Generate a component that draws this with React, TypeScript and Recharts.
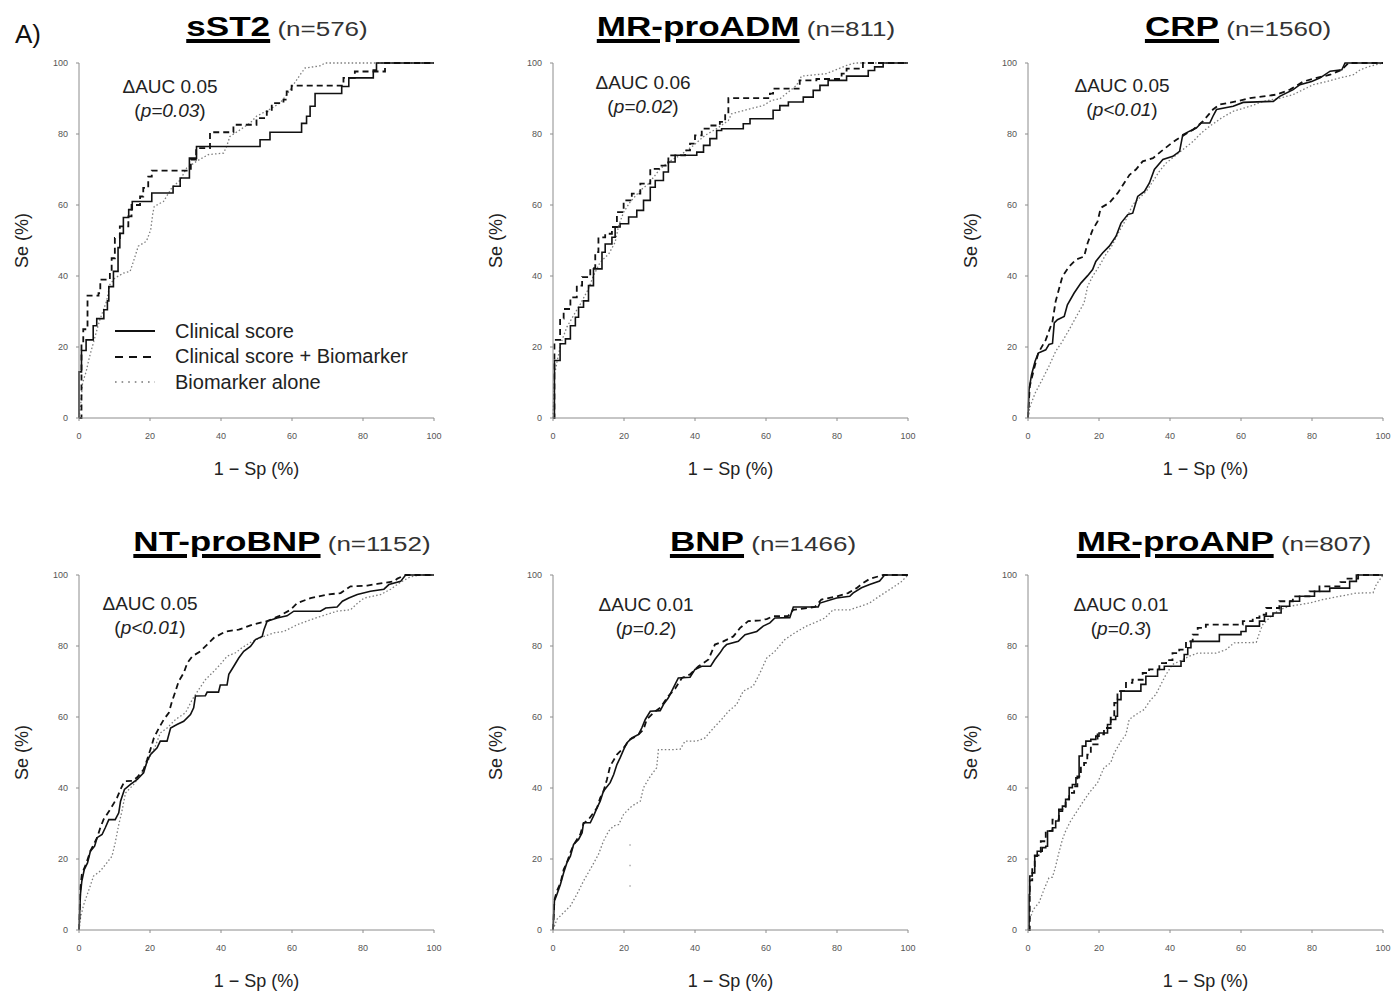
import React from 'react';
import { LineChart, Line, XAxis, YAxis, Legend } from 'recharts';

type Pt = [number, number];

// ---- text ----
const AXIS_TICKS = [0, 20, 40, 60, 80, 100];
const SERIES_NAMES = ['Clinical score', 'Clinical score + Biomarker', 'Biomarker alone'];
const MARKERS = ['sST2', 'MR-proADM', 'CRP', 'NT-proBNP', 'BNP', 'MR-proANP'];
const SAMPLE_SIZES = [576, 811, 1560, 1152, 1466, 807];
const DELTA_AUC = ['0.05', '0.06', '0.05', '0.05', '0.01', '0.01'];
const P_VALUES = ['p=0.03', 'p=0.02', 'p<0.01', 'p<0.01', 'p=0.2', 'p=0.3'];

// ---- ROC curves, [1 - Sp (%), Se (%)] ----
const sst2Clinical: Pt[] = [[0,0],[0,13],[0.7,19],[2,22],[4,26],[5,28],[7,30.5],[8,33],[8.4,37],[9.7,41.3],[11,48],[11.5,52],[12.5,56.5],[14,58.7],[15,61],[20.5,63.4],[26.5,65.3],[28.5,67.6],[31.1,73.2],[33.1,76.5],[51,78.4],[53.8,80.5],[62.7,83],[64.1,85],[65.1,87.8],[66.5,91.4],[74,93.4],[76,95.8],[82.9,98],[83.8,100],[100,100]];
const sst2Combined: Pt[] = [[0,0],[0.7,21],[1.2,25],[2.4,34.5],[5.5,35.2],[6,39],[8.7,41.3],[9.2,45],[10.1,50.7],[11.5,54],[13.9,56.8],[14.8,60],[17.2,62.4],[18.1,64.8],[19.5,68],[20.5,69.7],[31.5,72.8],[33,76],[36.9,80.5],[43.5,82.6],[50,84.5],[52.9,86.4],[54.3,88.7],[57.6,89.7],[58.5,92],[59.9,93.6],[74.5,95.8],[77.7,97.6],[86.2,100],[100,100]];
const sst2Alone: Pt[] = [[0,0],[0.5,4],[1,9.9],[2,13],[2.9,17],[4,21],[5.2,25.4],[5.9,27.7],[7.8,33],[8.7,37.6],[10.1,39.4],[12.5,40.8],[14.4,41.3],[15.3,44],[16.7,48.4],[19,49.8],[20.2,53],[20.8,57.7],[21.2,59.6],[23.8,61],[26.1,64.8],[28.5,67],[30.3,70.4],[33.1,72.3],[36.4,74.2],[40.7,74.6],[41.6,76.5],[42.5,79.3],[45.4,81.2],[48.2,83.1],[50,85],[53.8,87],[56.6,88.7],[58.5,91],[60.4,93.9],[62.3,96.7],[63.7,98.6],[67.9,99.2],[69.3,100],[100,100]];

const admClinical: Pt[] = [[0,0],[0.4,16.2],[2,20.9],[3.5,22.3],[4.9,26],[6.3,28.4],[7.2,31.2],[8.6,33],[10,37.3],[11.4,42],[13.8,46.7],[14.7,49],[16.6,50.9],[17.5,53.8],[18.9,54.7],[21.3,56.6],[23.6,58.5],[25.5,61.3],[27.4,65],[28.8,66.9],[31.1,69.3],[32.5,72.1],[34.4,74],[40.5,74.9],[42.4,76.8],[44.2,78.7],[46.1,81],[47.5,81.5],[53.6,82.9],[55.5,84.3],[62,86.7],[63.9,88],[66.3,89],[70.5,90.4],[73.3,92.3],[75.2,93.7],[77.5,95.1],[82.7,96.3],[88.8,97.9],[90.6,98.9],[93,100],[100,100]];
const admCombined: Pt[] = [[0,0],[0.4,22],[2,28],[3,30.7],[4.9,34],[6.7,37.3],[8.2,39.7],[10.5,42.2],[11.9,46.7],[12.8,50.9],[14.7,51.9],[16.6,53.8],[18,58],[19.9,61.3],[22.2,63.2],[24.6,66],[27.4,70.2],[30.2,71.1],[32.5,74],[37.2,75.4],[38.6,77.3],[40,79.6],[41.9,81.5],[44.2,82.4],[47,83.4],[48.5,85.7],[49.4,90.1],[61.1,91.4],[62,92.8],[69.5,95.1],[74.2,95.5],[81.3,97],[82.7,98.4],[87.3,100],[100,100]];
const admAlone: Pt[] = [[0,0],[0.4,12],[1.1,15.7],[2.3,21.3],[3.9,25.6],[5.8,28.9],[7.7,32.1],[10,36.4],[11.4,40.1],[13.3,43.9],[15.7,46.2],[17.5,49.5],[18.5,54.2],[19.9,58],[21.7,60.8],[24.6,64.1],[26.9,66],[30.2,70.2],[32.5,72.1],[35.8,74],[39.6,76.8],[42.8,79.6],[46.1,81.5],[49.4,83.8],[50.3,85.7],[55.5,87.1],[59.2,88],[61.6,89.5],[63.9,89.9],[68.6,93.7],[70,96.3],[77,97],[82.7,99.3],[85,100],[100,100]];

const crpClinical: Pt[] = [[0,0],[0.3,8],[1,12.2],[2,16],[2.9,18.3],[5,19.2],[5.9,20.7],[6.9,21],[7.4,26.8],[8.3,27.7],[10.2,28.6],[11.1,31.9],[13,35.2],[14.9,38],[16.8,40.1],[18.2,41.8],[19.1,44.1],[21,46.5],[22.9,48.4],[24.8,51.2],[26.2,54.9],[28.1,57.3],[29.5,57.7],[30.9,62.4],[32.8,63.8],[34.2,66.2],[35.6,70],[38,72.8],[40.8,73.7],[42.7,75.1],[43.6,79.8],[45.5,80.8],[47.4,81.7],[48.8,83.1],[51.2,83.1],[52.1,85],[53.1,86.9],[57.8,87.8],[60.6,88.9],[69.1,89.2],[70.9,90.6],[74.7,92.5],[76.6,93.9],[79.9,94.8],[82.3,95.8],[85.1,97.7],[88.4,98.1],[89.3,100],[100,100]];
const crpCombined: Pt[] = [[0,0],[0.5,9],[2,15],[2.9,18.3],[5,22],[6.9,27.2],[7.8,32.9],[9.7,39.9],[11.6,42.7],[13.5,44.6],[15.8,45.5],[16.8,49.3],[18.2,53],[19.6,55.4],[20.5,59.2],[22.9,60.6],[25.3,63.4],[27.1,66.2],[28.6,68.5],[30.4,70],[32.3,72.3],[35.2,73.2],[37.5,75.1],[39.9,77],[41.8,78.4],[44.1,79.8],[46.5,81.2],[49.3,83.6],[52.1,86.9],[54,88.3],[58.7,89.2],[62.5,90.1],[66.3,90.6],[70,91.1],[73.8,92.5],[77.6,94.8],[81.3,95.8],[85.1,96.7],[88.4,98.1],[90.3,100],[100,100]];
const crpAlone: Pt[] = [[0,0],[0.5,3],[2,7],[4,10.8],[5.9,14.6],[7.8,18.8],[9.7,21.6],[11.6,24.9],[13.9,29.1],[15.8,32.4],[16.8,37.1],[18.2,39.9],[20,42.7],[21.9,46],[23.8,48.8],[25.7,52.6],[27.6,55.9],[29.5,60.1],[31.4,62],[33.3,63.8],[35.2,66.7],[37,69.5],[38.9,71.8],[41.3,73.7],[43.6,75.6],[46.5,77.9],[48.8,80.3],[51.2,82.2],[54.5,84.5],[57.8,86.4],[62.5,87.8],[66.3,89.2],[71,90.1],[74.7,91.1],[77.5,92.5],[80.4,93.9],[84.2,94.8],[87.9,95.8],[91.7,96.7],[93.6,98.1],[96,99],[100,100]];

const ntClinical: Pt[] = [[0,0],[0.4,10],[0.8,13.8],[1.5,17.1],[2.4,18.9],[3.2,22.2],[4.4,23.6],[5.1,26],[6.5,26.9],[7.4,28.8],[8.4,31.1],[10.2,31.1],[11.2,33],[11.7,36.3],[12.8,39.6],[14.5,41],[16.4,42.4],[18.2,44.3],[19.2,47.6],[20.1,49.4],[22,51.3],[22.9,53.2],[24.8,53.2],[25.8,56.9],[27.6,57.9],[29.5,58.8],[31.4,60.7],[32.3,62.6],[32.8,65.9],[35.6,66],[36.1,67],[39.3,67],[39.8,69],[41.7,69],[42.2,72],[43.6,74.3],[45,76.6],[46.4,78.5],[48.3,79.9],[49.7,81.8],[51.6,82.7],[52.1,84.6],[53,87],[55.8,87.9],[58.6,88.5],[60.5,89.8],[68,89.8],[69.5,90.7],[72.7,91],[74.2,92.6],[76,93.5],[78.4,94.5],[82.1,95.4],[85.9,96],[87.3,97.3],[90.6,98.2],[92,100],[100,100]];
const ntCombined: Pt[] = [[0,0],[0.4,12],[0.8,15.7],[2.1,18.9],[3.2,22.2],[5.1,26],[6,28.8],[6.9,31.1],[8.8,34],[10.7,37.2],[11.7,39.6],[12.8,41.9],[15,42],[16.4,43],[18.2,45.2],[19.2,48],[20.1,50.8],[21.1,54.1],[22.5,56.9],[23.9,59.3],[25.3,61.2],[26.2,64.4],[27.2,67.3],[28.1,70.1],[29.5,72.4],[30.5,75.2],[31.9,77.1],[34.2,78.5],[36.1,80.4],[38,82.3],[41.3,84.1],[45,84.6],[48.8,86],[53,87],[56.3,88.4],[59.6,90.2],[61.5,92.1],[65.2,93.5],[69.9,94.5],[73.7,94.9],[76.5,96.8],[81.2,97],[84,97.5],[88.7,98.2],[89.7,99],[92,100],[100,100]];
const ntAlone: Pt[] = [[0,0],[0.5,4],[1.5,7.7],[3,11.9],[4.1,15.2],[6,16.6],[7.9,19],[9.3,20.8],[10.2,24.6],[11.2,29.7],[12.1,33.5],[13.1,38.6],[15.4,41],[17.8,44.3],[19.6,48],[21.5,51.8],[22.9,55.5],[24.8,56.9],[27.2,59.3],[30,61.2],[31.9,64.9],[33.7,67.7],[35.6,70.5],[38,72.9],[39.8,74.8],[41.7,77.1],[44.1,78.1],[45.9,79.5],[48.8,81.3],[51.1,82.3],[54.9,83.7],[57.7,84.1],[61.5,86],[65.2,87.4],[69.5,88.8],[72.7,89.8],[76.5,90.2],[78.4,92],[80.3,93.5],[85,94.5],[87.8,96],[90.6,98],[93.4,99.5],[96,100],[100,100]];

const bnpClinical: Pt[] = [[0,0],[0.4,8.2],[1.1,10],[2.1,12.9],[3,16.1],[3.9,18.9],[4.9,20.8],[5.8,24.1],[7.2,25.5],[8.2,27.4],[8.6,30.2],[10.5,30.2],[11.4,32.1],[12.4,34.4],[13.3,36.3],[14.2,39.1],[16.1,41.5],[17.1,43.8],[18,46.6],[18.9,48.5],[19.9,50.8],[20.8,52.7],[22.2,54.1],[24.1,55.1],[25,56.9],[26,59.3],[27.4,61.6],[30.2,61.8],[31.1,63.5],[32.5,65.4],[33.9,68.2],[35.3,71],[38.6,71.2],[40,73.4],[41.9,74.3],[44.4,74.3],[45.6,76.2],[47,78],[48,79.5],[48.9,80.4],[52.2,81.3],[54.1,83.2],[57.4,84.1],[59.2,85.6],[61.1,86.5],[62.5,87.9],[66.7,88],[67.7,91],[74.7,91],[75.2,92.1],[79.9,93.5],[83.6,94],[84.5,94.9],[86.9,96.4],[89.2,97.3],[92,98.3],[93.4,100],[100,100]];
const bnpCombined: Pt[] = [[0,0],[0.4,8.5],[1.1,11],[2.1,13.2],[3,17],[3.9,19],[4.9,21.8],[5.8,24],[7.7,27],[8.6,30],[10,31.1],[12.4,34.4],[13.3,37.2],[14.2,39],[15.2,42.4],[16.1,46.2],[18,49.4],[19.9,51.3],[21.7,53.7],[23.6,54.6],[25.5,56.5],[26.4,59.3],[28.3,61.2],[30.2,62.6],[32.5,65.9],[34.4,68],[36.3,71],[38.6,72],[41,74.3],[43.8,76.2],[45.6,80.4],[48,81.3],[50.8,82.7],[52.7,85.1],[55,87],[58.3,87.2],[60.2,87.6],[62,88.4],[66.2,88.4],[67.7,90.2],[73.8,91],[75.6,93.1],[80,94],[83.1,94.9],[85.5,96.3],[87.3,97.7],[89.2,98.9],[93,100],[100,100]];
const bnpAlone: Pt[] = [[0,0],[1.1,3],[2.5,4.4],[4.9,6.8],[6.7,10],[8.6,13.8],[11,18],[12.8,21.3],[14.2,25],[15.7,27.9],[17.1,29.3],[18.5,29.7],[19.9,32.6],[22.2,34.9],[24.6,36.3],[25.5,40.1],[27.4,43.3],[29.2,45.7],[29.7,50.8],[33,50.8],[35.8,50.9],[37.2,53.2],[40.5,53.2],[42.8,54.1],[45.2,56.9],[47.5,59.3],[49.4,61.6],[51.7,63.5],[53.6,67.3],[56.4,68.7],[58.3,72.4],[60.2,76.6],[62.5,78.5],[65.3,81.8],[68.1,83.7],[71.4,85.6],[74.7,87],[76.6,87.9],[78.9,90.2],[83.6,90.2],[86,91],[89,92],[91.6,93.8],[95,96],[98,98],[100,100]];
const bnpAloneFragment: Pt[] = [[21.7,12.2],[21.7,24.4]];

const anpClinical: Pt[] = [[0,0],[0.3,10],[0.5,15.2],[1.2,16.1],[1.9,20.8],[2.6,22.2],[4,23.2],[5,23.6],[5.5,27.9],[6.9,28.8],[7.8,30.7],[8.7,33.5],[9.7,34.9],[10.6,36.8],[11.6,40.1],[12.5,41],[13.5,42.9],[14.4,49],[15.3,51.8],[16.3,53.2],[17.7,53.7],[19.1,54.6],[20,55.5],[22.4,57.9],[23.3,59.3],[24.7,60.2],[25.2,64.9],[26.2,67.3],[31.8,69.2],[33.2,71.5],[36.5,73.4],[38.4,74.3],[43.1,75.7],[44,77.6],[45,79.5],[45.9,81.3],[53.9,83.2],[60,84.1],[61.4,85.6],[65.2,87],[66.6,88.4],[69,89.3],[71.3,91.2],[73.7,92.6],[76.5,94],[80.7,95.4],[85,96.3],[90.6,98.2],[92.5,100],[100,100]];
const anpCombined: Pt[] = [[0,0],[0.5,14],[1.2,18],[1.9,21],[3.6,25],[5,27.9],[6.9,31.1],[8.7,34],[10.6,36.8],[11.6,38.6],[13,40.5],[13.9,43.3],[14.9,45.7],[15.8,47.1],[16.7,49.4],[17.7,52.3],[19.6,55.1],[21.4,56.9],[23.3,59.8],[24.3,64],[25.2,67.3],[27.6,69.6],[29.4,70.5],[32.3,72.4],[34.1,73.4],[37,75.2],[38.9,76],[40.7,78],[42.6,79],[44.5,81.3],[46.4,83.2],[47.8,85.1],[50.1,86],[60.5,87],[63.3,87.9],[65.2,88.8],[67.1,90.7],[70.8,92.6],[74.6,94],[79.3,95.4],[82.1,96.8],[88,98],[90,99],[93,100],[100,100]];
const anpAlone: Pt[] = [[0,0],[0.5,3],[1.5,5.8],[3.1,7.7],[4.5,11.4],[5.9,14.7],[6.9,14.9],[7.8,18],[8.7,21.8],[9.7,25.5],[10.6,27.9],[12,30.7],[13.5,33],[15.3,35.8],[17.2,38.6],[19.6,41.5],[21.4,45.7],[23.3,47.1],[24.3,49.9],[26.2,53.2],[27.6,55.1],[28.5,59.3],[30.4,60.7],[32.7,62.1],[34.6,64.9],[36,66.3],[37.4,69.1],[38.9,72],[40.7,74.8],[42.6,75.7],[45.4,77.1],[47.8,78],[53,78],[55.8,79],[58.1,80.9],[64.3,81],[65.2,83.7],[66.1,86],[68.5,88.4],[70.8,90.2],[73.7,91.2],[79.3,92.1],[83.1,93.1],[87.8,94],[92.5,94.9],[97.2,95],[98.1,97.3],[100,100]];

// [clinical, clinical + biomarker, biomarker alone] per panel
const CURVES: Pt[][][] = [
  [sst2Clinical, sst2Combined, sst2Alone],
  [admClinical, admCombined, admAlone],
  [crpClinical, crpCombined, crpAlone],
  [ntClinical, ntCombined, ntAlone],
  [bnpClinical, bnpCombined, bnpAlone],
  [anpClinical, anpCombined, anpAlone],
];
const EXTRA_DOTTED: (Pt[] | null)[] = [null, null, null, null, bnpAloneFragment, null];

// ---- layout / styles ----
const FONT = '"Liberation Sans", Arial, Helvetica, sans-serif';
const COL_LEFT = [79, 553, 1028];
const ROW_TOP = [63, 575];
const PLOT = 355;
const Y_AXIS_W = 70;
const X_AXIS_H = 70;
const PAD = 10;
const TITLE_DX = [20, 15, 32, 25, 32, 18];
const NOTE_POS = [[91, 30], [90, 26], [94, 29], [71, 35], [93, 36], [93, 36]];
const STEPPED = [true, true, false, false, false, true];
const AXIS_COLOR = '#8c8c8c';

const LINE_STYLES = [
  { stroke: '#111', width: 1.6, dash: undefined as string | undefined },
  { stroke: '#111', width: 1.8, dash: '6 4' },
  { stroke: '#7d7d7d', width: 1.3, dash: '1.5 2.2' },
];
const FRAGMENT_STYLE = { stroke: '#a0a0a0', width: 1.3, dash: '1.5 19' };
const LEGEND_STYLES = [
  { stroke: '#111', width: 2, dash: undefined as string | undefined },
  { stroke: '#111', width: 2, dash: '8 6' },
  { stroke: '#777', width: 1.6, dash: '1.6 5' },
];

const toRows = (pts: Pt[]) => pts.map(([x, y]) => ({ x, y }));

function LegendBox() {
  return (
    <div style={{ fontFamily: FONT, fontSize: 20, color: '#222' }}>
      {SERIES_NAMES.map((name, i) => (
        <div key={name} style={{ display: 'flex', alignItems: 'center', height: 25.5, whiteSpace: 'nowrap' }}>
          <svg width={60} height={10}>
            <line x1={0} x2={40} y1={5} y2={5} stroke={LEGEND_STYLES[i].stroke}
              strokeWidth={LEGEND_STYLES[i].width} strokeDasharray={LEGEND_STYLES[i].dash} />
          </svg>
          <span>{name}</span>
        </div>
      ))}
    </div>
  );
}

function RocPanel({ index }: { index: number }) {
  const col = index % 3;
  const row = Math.floor(index / 3);
  const plotLeft = COL_LEFT[col];
  const plotTop = ROW_TOP[row];
  const chartLeft = plotLeft - Y_AXIS_W;
  const chartTop = plotTop - PAD;
  const curves = CURVES[index];
  const extra = EXTRA_DOTTED[index];
  const drawOrder = [2, 1, 0];

  return (
    <>
      <div
        style={{
          position: 'absolute',
          left: plotLeft + PLOT / 2 + TITLE_DX[index],
          top: row === 0 ? 14 : 529,
          transform: 'translateX(-50%) scaleX(1.3)',
          whiteSpace: 'nowrap',
          fontFamily: FONT,
          fontSize: 27,
          lineHeight: '27px',
        }}
      >
        <span style={{ fontWeight: 700, color: '#000', textDecoration: 'underline', textDecorationThickness: '3.5px', textUnderlineOffset: '3px' }}>
          {MARKERS[index]}
        </span>
        <span style={{ fontSize: 20, color: '#333' }}> (n={SAMPLE_SIZES[index]})</span>
      </div>

      <div style={{ position: 'absolute', left: chartLeft, top: chartTop }}>
        <LineChart
          width={Y_AXIS_W + PLOT + PAD}
          height={PAD + PLOT + X_AXIS_H}
          margin={{ top: PAD, right: PAD, bottom: 0, left: 0 }}
        >
          <XAxis
            dataKey="x"
            type="number"
            domain={[0, 100]}
            ticks={AXIS_TICKS}
            height={X_AXIS_H}
            tickSize={3}
            tickMargin={12}
            axisLine={{ stroke: AXIS_COLOR }}
            tickLine={{ stroke: AXIS_COLOR }}
            tick={{ fontSize: 9, fill: '#555', fontFamily: FONT }}
            label={{ value: '1 \u2212 Sp (%)', position: 'insideBottom', offset: 13, fill: '#222', fontSize: 18, fontFamily: FONT }}
          />
          <XAxis xAxisId="top" orientation="top" type="number" domain={[0, 100]} height={0}
            tick={false} tickLine={false} axisLine={{ stroke: AXIS_COLOR }} />
          <YAxis
            type="number"
            domain={[0, 100]}
            ticks={AXIS_TICKS}
            width={Y_AXIS_W}
            tickSize={3}
            tickMargin={8}
            axisLine={{ stroke: AXIS_COLOR }}
            tickLine={{ stroke: AXIS_COLOR }}
            tick={{ fontSize: 9, fill: '#555', fontFamily: FONT }}
            label={{ value: 'Se (%)', angle: -90, position: 'insideLeft', offset: 13, fill: '#222', fontSize: 18, fontFamily: FONT, style: { textAnchor: 'middle' } }}
          />
          <YAxis yAxisId="right" orientation="right" type="number" domain={[0, 100]} width={0}
            tick={false} tickLine={false} axisLine={{ stroke: AXIS_COLOR }} />

          {extra && (
            <Line data={toRows(extra)} dataKey="y" type="linear" stroke={FRAGMENT_STYLE.stroke}
              strokeWidth={FRAGMENT_STYLE.width} strokeDasharray={FRAGMENT_STYLE.dash}
              dot={false} activeDot={false} isAnimationActive={false} legendType="none" />
          )}
          {drawOrder.map((s) => (
            <Line
              key={SERIES_NAMES[s]}
              name={SERIES_NAMES[s]}
              data={toRows(curves[s])}
              dataKey="y"
              type={STEPPED[index] && s < 2 ? 'stepAfter' : 'linear'}
              stroke={LINE_STYLES[s].stroke}
              strokeWidth={LINE_STYLES[s].width}
              strokeDasharray={LINE_STYLES[s].dash}
              dot={false}
              activeDot={false}
              isAnimationActive={false}
            />
          ))}
          {index === 0 && (
            <Legend
              layout="vertical"
              align="center"
              verticalAlign="middle"
              content={() => <LegendBox />}
              wrapperStyle={{ left: 115 - chartLeft, top: 331 - 12.75 - chartTop, width: 'auto' }}
            />
          )}
        </LineChart>
      </div>
    </>
  );
}

export default function App() {
  return (
    <div style={{ position: 'absolute', left: 0, top: 0, width: 1400, height: 994, background: '#fff', overflow: 'hidden' }}>
      {MARKERS.map((m, i) => (
        <RocPanel key={m} index={i} />
      ))}
      <svg width={1400} height={994} style={{ position: 'absolute', left: 0, top: 0, pointerEvents: 'none' }}>
        <text x={15} y={43} fontFamily={FONT} fontSize={26} fill="#111">A)</text>
        {MARKERS.map((m, i) => {
          const x = COL_LEFT[i % 3] + NOTE_POS[i][0];
          const y = ROW_TOP[Math.floor(i / 3)] + NOTE_POS[i][1];
          return (
            <g key={m} fontFamily={FONT} fontSize={19} fill="#222">
              <text x={x} y={y} textAnchor="middle">{'\u0394AUC ' + DELTA_AUC[i]}</text>
              <text x={x} y={y + 24} textAnchor="middle">
                (<tspan fontStyle="italic">{P_VALUES[i]}</tspan>)
              </text>
            </g>
          );
        })}
      </svg>
    </div>
  );
}
